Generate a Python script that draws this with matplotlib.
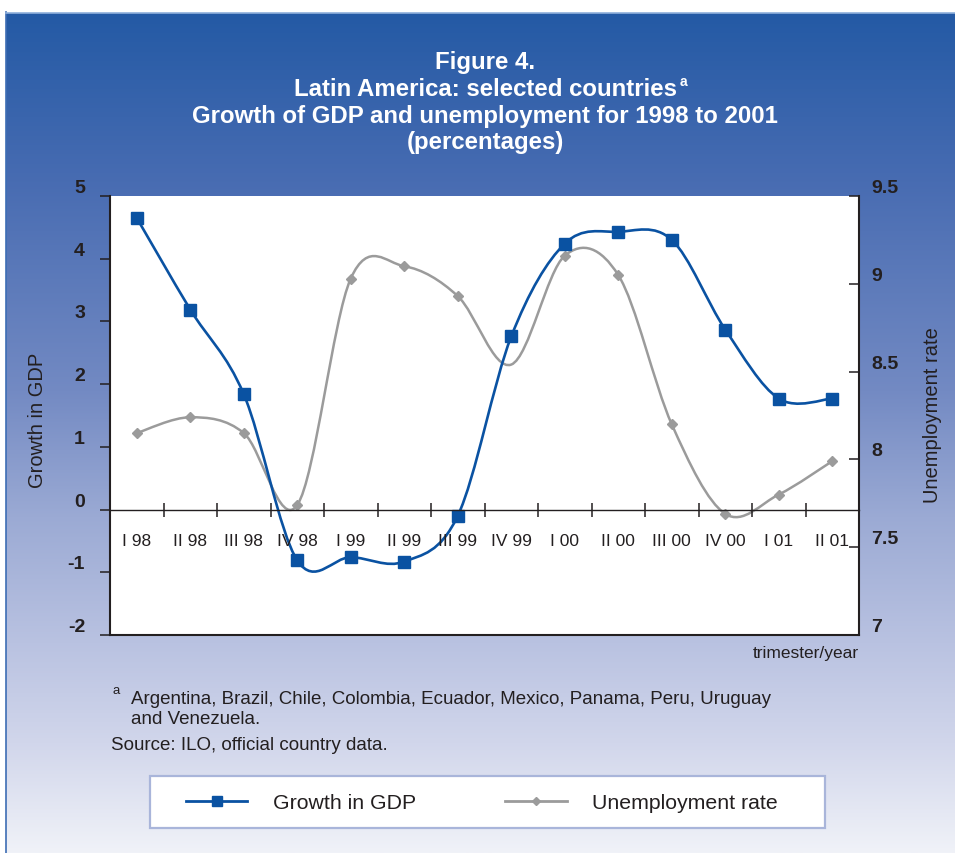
import numpy as np
import matplotlib.pyplot as plt
from matplotlib.path import Path
from matplotlib.patches import PathPatch, Rectangle
from matplotlib.lines import Line2D

plt.rcParams['font.family'] = ['Liberation Sans', 'DejaVu Sans']

# data (quarterly, 1998-2001)
quarters = ['I 98', 'II 98', 'III 98', 'IV 98', 'I 99', 'II 99', 'III 99',
            'IV 99', 'I 00', 'II 00', 'III 00', 'IV 00', 'I 01', 'II 01']
gdp_growth = [4.65, 3.19, 1.84, -0.81, -0.76, -0.83, -0.10,
              2.76, 4.24, 4.43, 4.30, 2.87, 1.77, 1.77]
unemployment = [8.15, 8.24, 8.15, 7.74, 9.03, 9.10, 8.93,
                8.54, 9.16, 9.05, 8.20, 7.69, 7.80, 7.99]
gdp_ticks = [-2, -1, 0, 1, 2, 3, 4, 5]
unemp_ticks = [7, 7.5, 8, 8.5, 9, 9.5]
unemp_tick_labels = ['7', '7.5', '8', '8.5', '9', '9.5']

BLUE = '#0a52a2'
GRAY = '#9b9b9b'
DARK = '#231f20'


def smooth_path(xs, ys):
    # smoothed line like the spreadsheet one: bezier segments through the points
    pts = np.column_stack([xs, ys]).astype(float)
    n = len(pts)
    verts = [pts[0]]
    codes = [Path.MOVETO]
    for i in range(n - 1):
        p0 = pts[max(i - 1, 0)]
        p1 = pts[i]
        p2 = pts[i + 1]
        p3 = pts[min(i + 2, n - 1)]
        verts += [p1 + (p2 - p0) / 6, p2 - (p3 - p1) / 6, p2]
        codes += [Path.CURVE4] * 3
    return Path(verts, codes)


fig = plt.figure(figsize=(9.55, 8.54), dpi=100)

# blue gradient panel
bg = fig.add_axes([6 / 955, 0, 1 - 6 / 955, 1 - 14 / 854])
stops = [0.0, 0.2, 0.45, 0.6, 0.75, 0.87, 1.0]
r = [36, 72, 115, 155, 185, 209, 240]
g = [90, 108, 138, 170, 194, 214, 242]
b = [165, 178, 195, 212, 225, 235, 248]
t = np.linspace(0, 1, 300)
grad = np.dstack([np.interp(t, stops, c) for c in (r, g, b)]).reshape(300, 1, 3) / 255
bg.imshow(grad, aspect='auto', extent=[0, 1, 0, 1], origin='upper')
bg.set_xlim(0, 1)
bg.set_ylim(0, 1)
bg.axis('off')
fig.add_artist(Line2D([5.5 / 955, 5.5 / 955], [0, 1 - 13 / 854], color='#3d6db4', lw=1.2))
fig.add_artist(Line2D([5.5 / 955, 1], [1 - 13.5 / 854] * 2, color='#8fb0dc', lw=1.2))

ax = fig.add_axes([110 / 955, 1 - 636 / 854, 749 / 955, 439 / 854])
ax2 = ax.twinx()
ax.set_zorder(ax2.get_zorder() + 1)
ax.patch.set_visible(False)
ax2.patch.set_visible(True)
ax2.patch.set_facecolor('white')

x = np.arange(len(quarters))

ax2.add_patch(PathPatch(smooth_path(x, unemployment), fill=False, ec=GRAY, lw=1.8,
                        joinstyle='round', capstyle='round'))
ax2.plot(x, unemployment, ls='none', marker='D', ms=5.5, color=GRAY,
         markevery=[i for i in range(len(x)) if i != 7])

ax.add_patch(PathPatch(smooth_path(x, gdp_growth), fill=False, ec=BLUE, lw=1.9,
                       joinstyle='round', capstyle='round'))
ax.plot(x, gdp_growth, ls='none', marker='s', ms=9, color=BLUE)

ax.set_xlim(-0.5, len(quarters) - 0.5)
ax.set_ylim(-2, 5)
ax2.set_ylim(7, 9.5)

for s in ['top', 'right']:
    ax.spines[s].set_visible(False)
ax.spines['bottom'].set_position(('data', 0))
ax.spines['bottom'].set_linewidth(1.0)
ax.spines['left'].set_linewidth(1.5)
for s in ['top', 'left']:
    ax2.spines[s].set_visible(False)
ax2.spines['right'].set_linewidth(1.5)
ax2.spines['bottom'].set_linewidth(1.5)
for s in ax.spines.values():
    s.set_color(DARK)
for s in ax2.spines.values():
    s.set_color(DARK)

ax.set_xticks(x[:-1] + 0.5)
ax.set_xticklabels([])
ax.set_xticks(x, quarters, minor=True)
ax.tick_params(axis='x', which='major', direction='inout', length=10, width=1.1, color=DARK)
ax.tick_params(axis='x', which='minor', length=0, pad=17, labelsize=12.5, labelcolor=DARK)

ax.set_yticks(gdp_ticks, [str(v) for v in gdp_ticks], fontweight='bold', va='bottom')
ax.tick_params(axis='y', direction='out', length=7, width=1.1, pad=11,
               labelsize=14, labelcolor=DARK, color=DARK)
ax2.set_yticks(unemp_ticks, unemp_tick_labels, fontweight='bold', va='bottom')
ax2.tick_params(axis='y', direction='in', length=7, width=1.1, pad=9,
                labelsize=14, labelcolor=DARK, color=DARK)

ax.set_ylabel('Growth in GDP', fontsize=14.5, color=DARK)
ax.yaxis.set_label_coords(-0.084, 0.492)
ax2.set_ylabel('Unemployment rate', fontsize=14.5, color=DARK, rotation=90)
ax2.yaxis.set_label_coords(1.086, 0.503)
ax.text(1.0, -0.039, 'trimester/year', transform=ax.transAxes, ha='right', va='center',
        fontsize=12.5, color=DARK)

# title block
title_x = 485 / 955
fig.text(title_x, 1 - 62 / 854, 'Figure 4.', ha='center', va='center', fontsize=17.3,
         fontweight='bold', color='white')
line2 = fig.text(title_x, 1 - 89 / 854, 'Latin America: selected countries', ha='center',
                 va='center', fontsize=17.3, fontweight='bold', color='white')
bg.annotate('a', xy=(1, 0.8), xycoords=line2, xytext=(2.5, 0), textcoords='offset points',
            ha='left', va='center', fontsize=10, fontweight='bold', color='white')
fig.text(title_x, 1 - 116 / 854, 'Growth of GDP and unemployment for 1998 to 2001',
         ha='center', va='center', fontsize=17.3, fontweight='bold', color='white')
fig.text(title_x, 1 - 143 / 854, '(percentages)', ha='center', va='center', fontsize=17.3,
         fontweight='bold', color='white')

# footnotes
fig.text(112 / 955, 1 - 691 / 854, 'a', ha='left', va='center', fontsize=9.5, color=DARK)
fig.text(131 / 955, 1 - 700 / 854,
         'Argentina, Brazil, Chile, Colombia, Ecuador, Mexico, Panama, Peru, Uruguay',
         ha='left', va='center', fontsize=13.5, color=DARK)
fig.text(131 / 955, 1 - 719 / 854, 'and Venezuela.', ha='left', va='center', fontsize=13.5,
         color=DARK)
fig.text(111 / 955, 1 - 746 / 854, 'Source: ILO, official country data.', ha='left',
         va='center', fontsize=13.5, color=DARK)

# legend box
fig.add_artist(Rectangle((150 / 955, 1 - 829 / 854), 675 / 955, 52 / 854,
                         transform=fig.transFigure, fc='white', ec='#a9b5da', lw=1.6))
handles = [Line2D([], [], color=BLUE, lw=2, marker='s', ms=7),
           Line2D([], [], color=GRAY, lw=2, marker='D', ms=4)]
fig.legend(handles, ['Growth in GDP', 'Unemployment rate'], loc='center',
           bbox_to_anchor=(482 / 955, 1 - 804 / 854), ncol=2, frameon=False,
           fontsize=15.3, handlelength=2.9, handletextpad=1.2, columnspacing=4.2,
           labelcolor=DARK)

fig.savefig('out.png', dpi=100)
